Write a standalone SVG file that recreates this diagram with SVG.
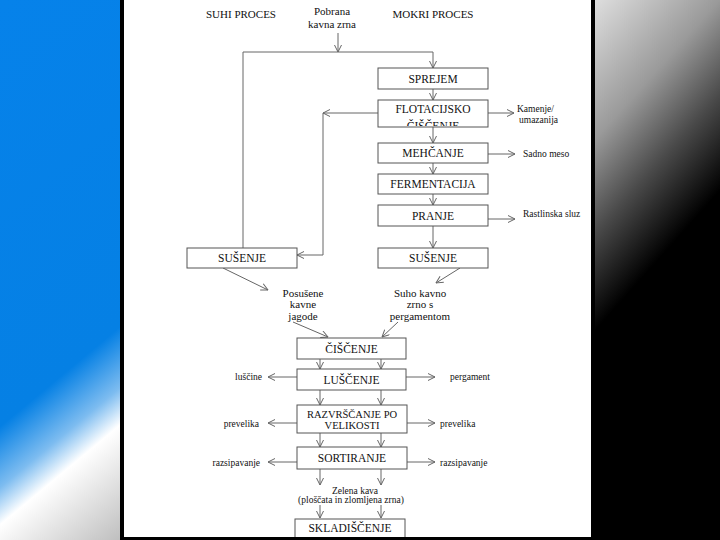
<svg xmlns="http://www.w3.org/2000/svg" width="720" height="540" viewBox="0 0 720 540">
<defs>
<linearGradient id="bgL" gradientUnits="userSpaceOnUse" x1="0" y1="0" x2="333" y2="400">
<stop offset="0" stop-color="#0682ea"/>
<stop offset="0.63" stop-color="#0580e4"/>
<stop offset="0.72" stop-color="#7dbcf0"/>
<stop offset="0.775" stop-color="#ffffff"/>
<stop offset="0.95" stop-color="#bdbdbd"/>
<stop offset="1" stop-color="#aaaaaa"/>
</linearGradient>
<linearGradient id="bgR" gradientUnits="userSpaceOnUse" x1="0" y1="0" x2="522" y2="466">
<stop offset="0.634" stop-color="#dedede"/>
<stop offset="0.767" stop-color="#9a9a9a"/>
<stop offset="0.857" stop-color="#4a4a4a"/>
<stop offset="0.949" stop-color="#000000"/>
</linearGradient>
<marker id="ah" viewBox="0 0 8 8" refX="7.5" refY="4" markerWidth="8" markerHeight="8" markerUnits="userSpaceOnUse" orient="auto">
<path d="M0.5,0.5 L7.5,4 L0.5,7.5" fill="none" stroke="#666" stroke-width="1"/>
</marker>
<clipPath id="flotClip"><rect x="378" y="100" width="110" height="26"/></clipPath>
</defs>
<style>
text{font-family:'Liberation Serif','DejaVu Serif',serif}
.box{fill:#fff;stroke:#555;stroke-width:1}
.bt{font-size:11.5px;fill:#111;text-anchor:middle}
.bs{font-size:10.5px;fill:#111;text-anchor:middle}
.mt{font-size:11px;fill:#111;text-anchor:middle}
.st{font-size:9.5px;fill:#111}
.ca{fill:none;stroke:#666;stroke-width:1;marker-end:url(#ah)}
</style>
<rect x="0" y="0" width="120" height="540" fill="url(#bgL)"/>
<rect x="595" y="0" width="125" height="540" fill="url(#bgR)"/>
<rect x="120" y="0" width="475" height="540" fill="#000"/>
<rect x="124" y="0" width="467" height="537" fill="#fff"/>

<g id="labels" font-family="Liberation Serif, serif">
<text class="mt" x="241" y="18">SUHI PROCES</text>
<text class="mt" x="433" y="18">MOKRI PROCES</text>
<text class="mt" x="332" y="15">Pobrana</text>
<text class="mt" x="332" y="28">kavna zrna</text>
<text class="st" x="517" y="112">Kamenje/</text>
<text class="st" x="519" y="123">umazanija</text>
<text class="st" x="523" y="157">Sadno meso</text>
<text class="st" x="523" y="217">Rastlinska sluz</text>
<text class="mt" x="303" y="296.5">Posušene</text>
<text class="mt" x="303" y="308">kavne</text>
<text class="mt" x="303" y="319.5">jagode</text>
<text class="mt" x="420" y="296.5">Suho kavno</text>
<text class="mt" x="420" y="308">zrno s</text>
<text class="mt" x="420" y="319.5">pergamentom</text>
<text class="st" x="262" y="380" text-anchor="end">luščine</text>
<text class="st" x="450" y="380">pergament</text>
<text class="st" x="259" y="427" text-anchor="end">prevelika</text>
<text class="st" x="440" y="427">prevelika</text>
<text class="st" x="260" y="466" text-anchor="end">razsipavanje</text>
<text class="st" x="440" y="466">razsipavanje</text>
<text class="st" x="355" y="494" text-anchor="middle">Zelena kava</text>
<text class="st" x="351" y="503" text-anchor="middle">(ploščata in zlomljena zrna)</text>
</g>

<g id="connectors">
<path class="ca" d="M338,33 V52"/>
<path class="ca" d="M243,248 V52 H433 V68"/>
<path class="ca" d="M433,89 V100"/>
<path class="ca" d="M378,113 H323"/>
<path class="ca" d="M323,113 V255 H297"/>
<path class="ca" d="M488,113 H514"/>
<path class="ca" d="M433,127 V143"/>
<path class="ca" d="M488,154 H515"/>
<path class="ca" d="M433,163 V174"/>
<path class="ca" d="M433,194 V205"/>
<path class="ca" d="M488,219 H515"/>
<path class="ca" d="M433,226 V248"/>
<path class="ca" d="M223,268 L268,290"/>
<path class="ca" d="M460,268 L436,283"/>
<path class="ca" d="M293,322 L328,337"/>
<path class="ca" d="M398,322 L382,337"/>
<path class="ca" d="M320,359 V369"/>
<path class="ca" d="M381,359 V369"/>
<path class="ca" d="M297,377 H268"/>
<path class="ca" d="M406,377 H435"/>
<path class="ca" d="M320,390 V405"/>
<path class="ca" d="M381,390 V405"/>
<path class="ca" d="M297,423 H268"/>
<path class="ca" d="M407,423 H435"/>
<path class="ca" d="M320,433 V447"/>
<path class="ca" d="M381,433 V447"/>
<path class="ca" d="M297,462 H268"/>
<path class="ca" d="M407,462 H435"/>
<path class="ca" d="M320,469 V485"/>
<path class="ca" d="M381,469 V485"/>
<path class="ca" d="M320,505 V518"/>
<path class="ca" d="M381,505 V518"/>
</g>

<g id="sprejem"><rect class="box" x="378" y="68" width="110" height="21"/><text class="bt" x="433" y="82.5">SPREJEM</text></g>
<g id="flotacijsko"><rect class="box" x="378" y="100" width="110" height="27"/><g clip-path="url(#flotClip)"><text class="bt" x="433" y="113">FLOTACIJSKO</text><text class="bt" x="433" y="129.5">ČIŠČENJE</text></g></g>
<g id="mehcanje"><rect class="box" x="378" y="143" width="110" height="20"/><text class="bt" x="433" y="157">MEHČANJE</text></g>
<g id="fermentacija"><rect class="box" x="378" y="174" width="110" height="20"/><text class="bt" x="433" y="188">FERMENTACIJA</text></g>
<g id="pranje"><rect class="box" x="378" y="205" width="110" height="21"/><text class="bt" x="433" y="219.5">PRANJE</text></g>
<g id="susenje-mokri"><rect class="box" x="378" y="248" width="110" height="20"/><text class="bt" x="433" y="262">SUŠENJE</text></g>
<g id="susenje-suhi"><rect class="box" x="187" y="248" width="110" height="20"/><text class="bt" x="242" y="262">SUŠENJE</text></g>
<g id="ciscenje"><rect class="box" x="297" y="338" width="109" height="21"/><text class="bt" x="351.5" y="352.5">ČIŠČENJE</text></g>
<g id="luscenje"><rect class="box" x="297" y="369" width="109" height="21"/><text class="bt" x="351.5" y="383.5">LUŠČENJE</text></g>
<g id="razvrscanje"><rect class="box" x="297" y="405" width="110" height="28"/><text class="bs" x="352" y="417.5">RAZVRŠČANJE PO</text><text class="bs" x="352" y="428.5">VELIKOSTI</text></g>
<g id="sortiranje"><rect class="box" x="297" y="447" width="110" height="22"/><text class="bt" x="352" y="462">SORTIRANJE</text></g>
<g id="skladiscenje"><rect class="box" x="295" y="519" width="110" height="30"/><text class="bt" x="350" y="532">SKLADIŠČENJE</text></g>

<rect x="120" y="537" width="475" height="3" fill="#000"/>
</svg>
